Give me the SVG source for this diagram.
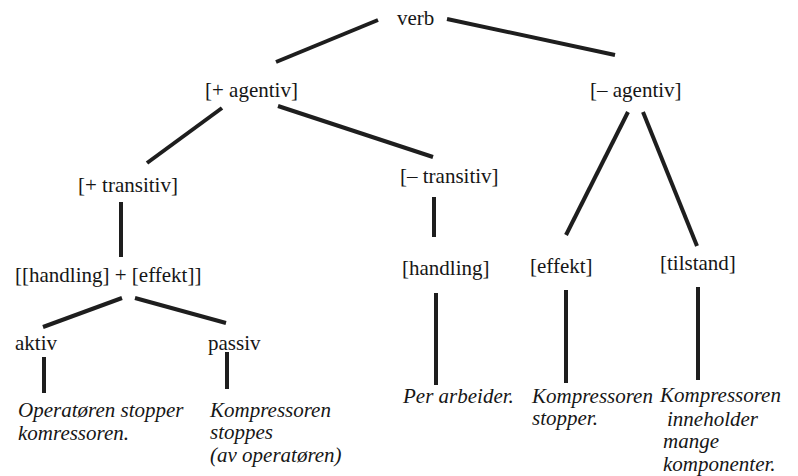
<svg xmlns="http://www.w3.org/2000/svg" width="798" height="476" viewBox="0 0 798 476">
  <style>
    .lbl { font-family: "Liberation Serif", "Times New Roman", serif; font-size: 21px; fill: #161616; }
    .ex { font-family: "Liberation Serif", "Times New Roman", serif; font-size: 21px; font-style: italic; fill: #161616; }
    .edge { stroke: #1e1e1e; stroke-width: 4; stroke-linecap: butt; fill: none; }
  </style>
  <rect width="798" height="476" fill="#ffffff"/>

  <g id="connectors">
    <line class="edge" x1="378" y1="20" x2="276" y2="62"/>
    <line class="edge" x1="447" y1="19" x2="615" y2="55"/>
    <line class="edge" x1="222" y1="108" x2="147" y2="163"/>
    <line class="edge" x1="278" y1="106" x2="433" y2="157"/>
    <line class="edge" x1="121" y1="202" x2="121" y2="257"/>
    <line class="edge" x1="122" y1="298" x2="43" y2="327"/>
    <line class="edge" x1="135" y1="298" x2="226" y2="323"/>
    <line class="edge" x1="44" y1="357" x2="44" y2="393"/>
    <line class="edge" x1="227" y1="352" x2="227" y2="389"/>
    <line class="edge" x1="434" y1="197" x2="434" y2="237"/>
    <line class="edge" x1="436" y1="293" x2="436" y2="385"/>
    <line class="edge" x1="628" y1="112" x2="566" y2="235"/>
    <line class="edge" x1="643" y1="112" x2="697" y2="246"/>
    <line class="edge" x1="566" y1="290" x2="566" y2="383"/>
    <line class="edge" x1="698" y1="287" x2="698" y2="380"/>
  </g>

  <g id="verb"><text class="lbl" x="397" y="25">verb</text></g>
  <g id="plus-agentiv"><text class="lbl" x="205" y="97">[+ agentiv]</text></g>
  <g id="minus-agentiv"><text class="lbl" x="590" y="97">[– agentiv]</text></g>
  <g id="plus-transitiv"><text class="lbl" x="78" y="192">[+ transitiv]</text></g>
  <g id="minus-transitiv"><text class="lbl" x="400" y="183">[– transitiv]</text></g>
  <g id="handling-effekt"><text class="lbl" x="15" y="282">[[handling] + [effekt]]</text></g>
  <g id="handling"><text class="lbl" x="402" y="275">[handling]</text></g>
  <g id="effekt"><text class="lbl" x="530" y="273">[effekt]</text></g>
  <g id="tilstand"><text class="lbl" x="660" y="270">[tilstand]</text></g>
  <g id="aktiv"><text class="lbl" x="15" y="350">aktiv</text></g>
  <g id="passiv"><text class="lbl" x="208" y="350">passiv</text></g>

  <g id="ex-aktiv">
    <text class="ex" x="18" y="417">Operatøren stopper</text>
    <text class="ex" x="18" y="440">komressoren.</text>
  </g>
  <g id="ex-passiv">
    <text class="ex" x="210" y="417">Kompressoren</text>
    <text class="ex" x="210" y="439">stoppes</text>
    <text class="ex" x="210" y="462">(av operatøren)</text>
  </g>
  <g id="ex-handling">
    <text class="ex" x="403" y="403">Per arbeider.</text>
  </g>
  <g id="ex-effekt">
    <text class="ex" x="532" y="403">Kompressoren</text>
    <text class="ex" x="532" y="425">stopper.</text>
  </g>
  <g id="ex-tilstand">
    <text class="ex" x="660" y="402">Kompressoren</text>
    <text class="ex" x="667" y="426">inneholder</text>
    <text class="ex" x="663" y="448">mange</text>
    <text class="ex" x="663" y="471">komponenter.</text>
  </g>
</svg>
